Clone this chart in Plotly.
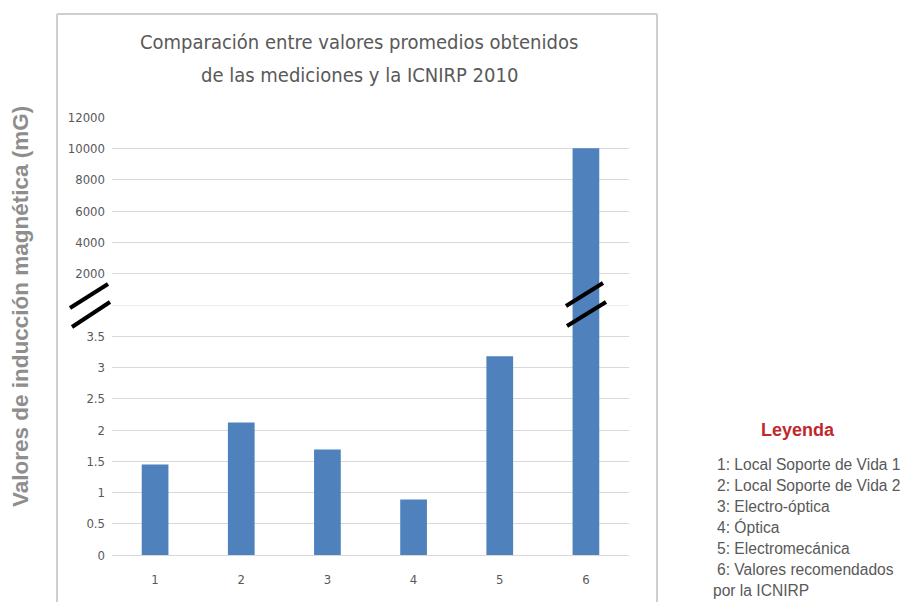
import plotly.graph_objects as go
from plotly.subplots import make_subplots

# ---- data ----
categories = ["1", "2", "3", "4", "5", "6"]
values = [1.45, 2.12, 1.69, 0.89, 3.18, 10000]
lower_range = [0, 4]
lower_ticks = [0, 0.5, 1, 1.5, 2, 2.5, 3, 3.5]
lower_ticktext = ["0", "0.5", "1", "1.5", "2", "2.5", "3", "3.5"]
break_value = 4
upper_range = [4, 12000]
upper_ticks = [2000, 4000, 6000, 8000, 10000, 12000]
upper_ticktext = ["2000", "4000", "6000", "8000", "10000", "12000"]
title_lines = ["Comparación entre valores promedios obtenidos",
               "de las mediciones y la ICNIRP 2010"]
y_title = "Valores de inducción magnética (mG)"
legend_title = "Leyenda"
legend_lines = ["1: Local Soporte de Vida 1", "2: Local Soporte de Vida 2",
                "3: Electro-óptica", "4: Óptica", "5: Electromecánica",
                "6: Valores recomendados", "por la ICNIRP"]

W, H = 908, 602
L, R, T, B = 112, 629, 117, 555
BREAK_Y = 305

def pxx(x):
    return (x - L) / (R - L)

def pxy(y):
    return (B - y) / (B - T)

split = pxy(BREAK_Y)

fig = make_subplots(rows=2, cols=1, shared_xaxes=True, vertical_spacing=0,
                    row_heights=[1 - split, split])

bar_color = "#4f81bd"
fig.add_trace(go.Bar(x=categories, y=values, marker_color=bar_color,
                     marker_line_width=0, showlegend=False), row=1, col=1)
fig.add_trace(go.Bar(x=categories, y=values, marker_color=bar_color,
                     marker_line_width=0, showlegend=False), row=2, col=1)

tick_font = dict(family="Liberation Sans Narrow, DejaVu Sans Condensed, Arial, sans-serif",
                 size=13, color="#595959")
grid = "#d9d9d9"

fig.update_yaxes(range=upper_range, tickvals=upper_ticks, ticktext=upper_ticktext,
                 row=1, col=1)
fig.update_yaxes(range=lower_range, tickvals=lower_ticks, ticktext=lower_ticktext,
                 row=2, col=1)
fig.update_yaxes(showgrid=True, gridcolor=grid, gridwidth=1, zeroline=True,
                 zerolinecolor=grid, zerolinewidth=1, showline=False,
                 tickfont=tick_font, ticks="", ticklen=0, fixedrange=True)
fig.update_xaxes(showgrid=False, zeroline=False, showline=False, ticks="",
                 tickfont=tick_font, showticklabels=False, row=1, col=1)
fig.update_xaxes(showgrid=False, zeroline=False, showline=False, ticks="",
                 tickfont=tick_font, showticklabels=True, ticklabelstandoff=9,
                 row=2, col=1)

fig.update_layout(
    width=W, height=H,
    margin=dict(l=L, r=W - R, t=T, b=H - B, pad=6),
    paper_bgcolor="white", plot_bgcolor="rgba(0,0,0,0)",
    bargap=0.69,
)

shapes = []
# gridline at the axis break (value 4 on the lower axis)
shapes.append(dict(type="line", xref="paper", yref="y2", x0=0, x1=1,
                   y0=break_value, y1=break_value, layer="below",
                   line=dict(color=grid, width=1)))
# frame around chart area
frame = dict(color="#cfcfcf", width=2)
shapes.append(dict(type="line", xref="paper", yref="paper",
                   x0=pxx(57), x1=pxx(57), y0=pxy(14), y1=pxy(640), line=frame))
shapes.append(dict(type="line", xref="paper", yref="paper",
                   x0=pxx(57), x1=pxx(657), y0=pxy(14), y1=pxy(14), line=frame))
shapes.append(dict(type="line", xref="paper", yref="paper",
                   x0=pxx(657), x1=pxx(657), y0=pxy(14), y1=pxy(640), line=frame))
# axis break marks
brk = dict(color="black", width=4)
for (x0, y0, x1, y1) in [(70, 308, 108, 284), (72, 327, 110, 302),
                         (566, 306, 603, 283), (567, 326, 606, 302)]:
    shapes.append(dict(type="line", xref="paper", yref="paper",
                       x0=pxx(x0), y0=pxy(y0), x1=pxx(x1), y1=pxy(y1), line=brk))
fig.update_layout(shapes=shapes)

ann = []
title_font = dict(family="Liberation Sans Narrow, DejaVu Sans Condensed, Arial, sans-serif",
                  size=20, color="#595959")
for i, t in enumerate(title_lines):
    ann.append(dict(text=t, x=pxx(359), y=pxy(42 + 33 * i), xref="paper", yref="paper",
                    xanchor="center", yanchor="middle", showarrow=False, font=title_font))
ann.append(dict(text="<b>" + y_title + "</b>", x=pxx(20), y=pxy(307), xref="paper",
                yref="paper", xanchor="center", yanchor="middle", textangle=-90,
                showarrow=False,
                font=dict(family="Liberation Sans, Arial, sans-serif", size=22.5,
                          color="#8e8e8e")))
ann.append(dict(text="<b>" + legend_title + "</b>", x=pxx(798), y=pxy(430),
                xref="paper", yref="paper", xanchor="center", yanchor="middle",
                showarrow=False,
                font=dict(family="Liberation Sans, Arial, sans-serif", size=18,
                          color="#c0282d")))
legend_y = [464, 485, 506, 527, 548, 569, 590]
for i, t in enumerate(legend_lines):
    ann.append(dict(text=t, x=pxx(715 if i < 6 else 711), y=pxy(legend_y[i]),
                    xref="paper", yref="paper", xanchor="left", yanchor="middle",
                    showarrow=False,
                    font=dict(family="Liberation Sans, Arial, sans-serif",
                              size=15.6, color="#595959")))
fig.update_layout(annotations=ann)

fig.write_html("out.html")
